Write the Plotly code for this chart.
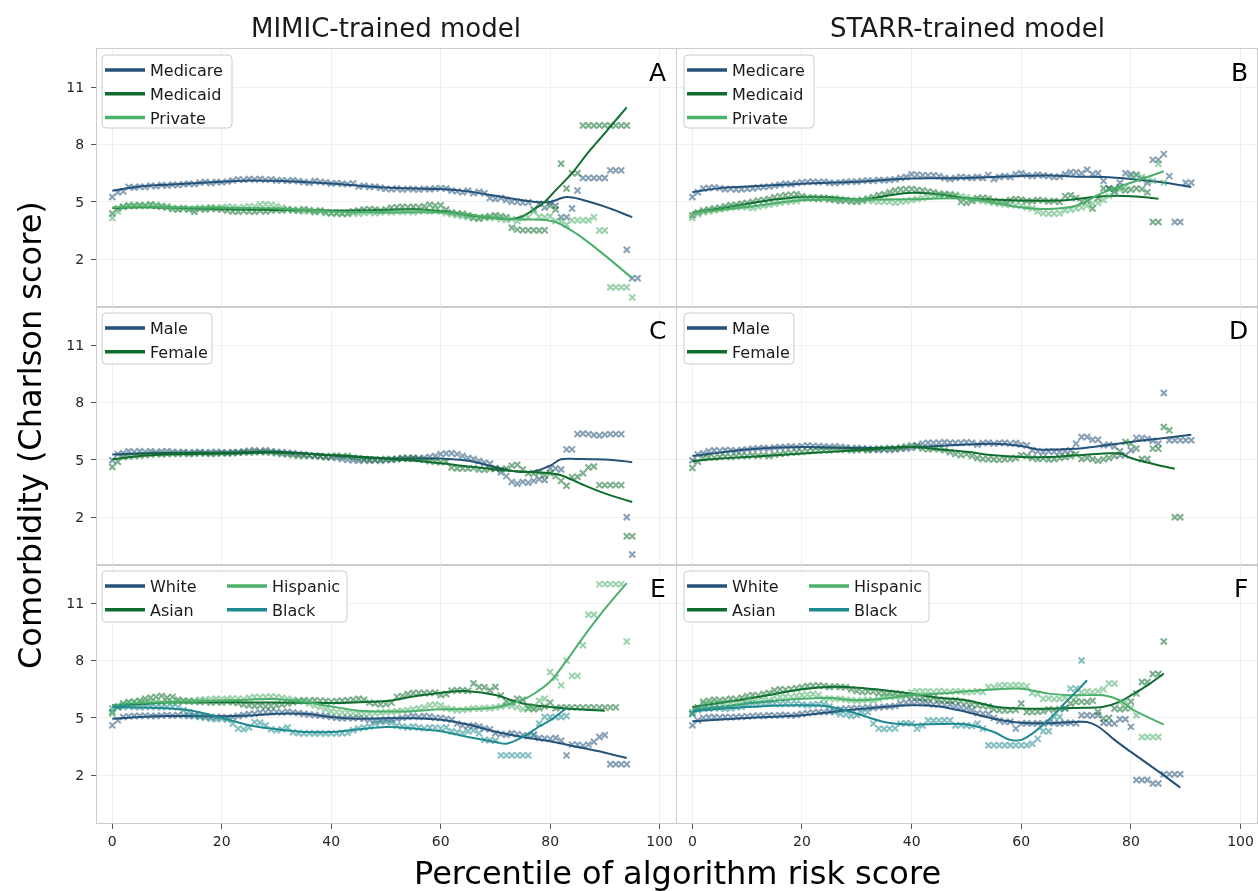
import plotly.graph_objects as go
from plotly.subplots import make_subplots

FONT = "DejaVu Sans"
BLUE = "#245279"
DKGREEN = "#0f6d2e"
LTGREEN = "#4cb06a"
TEAL = "#1f8a8f"

COL_TITLES = ["MIMIC-trained model", "STARR-trained model"]
PANEL_LETTERS = ["A", "B", "C", "D", "E", "F"]
X_TICKS = [0, 20, 40, 60, 80, 100]
Y_TICKS = [2, 5, 8, 11]

# ---------------- Panel A: MIMIC, insurance ----------------
A_MEDICARE = [5.26, 5.5, 5.55, 5.78, 5.75, 5.8, 5.78, 5.85, 5.82, 5.88, 5.85, 5.9, 5.88, 5.92, 5.95, 5.93,
              6.0, 6.04, 5.98, 6.04, 6.02, 6.06, 6.12, 6.18, 6.15, 6.2, 6.17, 6.2, 6.15, 6.18, 6.12, 6.14,
              6.1, 6.13, 6.08, 6.04, 6.0, 6.1, 6.04, 6.02, 5.96, 5.98, 5.95, 5.93, 5.97, 5.8, 5.85, 5.78,
              5.8, 5.74, 5.68, 5.66, 5.7, 5.64, 5.68, 5.66, 5.64, 5.68, 5.66, 5.7, 5.72, 5.7, 5.6, 5.55,
              5.5, 5.58, 5.45, 5.52, 5.45, 5.2, 5.15, 5.2, 5.1, 5.0, 5.0, 4.95, 4.98, 4.6, 4.9, 4.7,
              4.95, 4.8, 4.2, 4.2, 4.65, 5.6, 6.25, 6.25, 6.25, 6.25, 6.25, 6.65, 6.65, 6.65, 2.5, 1.0, 1.0]
A_MEDICAID = [4.39, 4.65, 4.75, 4.8, 4.78, 4.82, 4.8, 4.85, 4.78, 4.75, 4.7, 4.62, 4.6, 4.65, 4.6, 4.48,
              4.62, 4.6, 4.65, 4.62, 4.6, 4.55, 4.5, 4.48, 4.52, 4.5, 4.48, 4.55, 4.5, 4.55, 4.58, 4.55,
              4.6, 4.58, 4.55, 4.62, 4.56, 4.5, 4.55, 4.45, 4.4, 4.42, 4.38, 4.4, 4.5, 4.55, 4.6, 4.62,
              4.6, 4.55, 4.6, 4.7, 4.72, 4.75, 4.72, 4.75, 4.72, 4.78, 4.85, 4.8, 4.82, 4.6, 4.45, 4.4,
              4.38, 4.3, 4.15, 4.12, 4.2, 4.25, 4.3, 4.25, 4.2, 3.65, 3.55, 3.52, 3.52, 3.52, 3.5, 3.52,
              4.8, 4.6, 7.0, 5.7, 6.5, 6.5, 9.0, 9.0, 9.0, 9.0, 9.0, 9.0, 9.0, 9.0, 9.0]
A_PRIVATE = [4.16, 4.5, 4.75, 4.82, 4.85, 4.8, 4.82, 4.88, 4.85, 4.8, 4.78, 4.7, 4.65, 4.68, 4.62, 4.65,
             4.7, 4.68, 4.72, 4.7, 4.72, 4.75, 4.73, 4.7, 4.72, 4.78, 4.75, 4.86, 4.88, 4.85, 4.78, 4.7,
             4.62, 4.56, 4.55, 4.5, 4.52, 4.45, 4.5, 4.42, 4.4, 4.38, 4.4, 4.36, 4.4, 4.38, 4.42, 4.45,
             4.4, 4.45, 4.48, 4.45, 4.5, 4.47, 4.5, 4.45, 4.5, 4.55, 4.5, 4.55, 4.5, 4.4, 4.35, 4.3,
             4.25, 4.2, 4.22, 4.15, 4.2, 4.15, 4.18, 4.1, 4.05, 4.1, 4.0, 4.15, 4.2, 4.5, 4.22, 4.2,
             4.25, 4.0, 4.0, 3.8, 4.04, 4.04, 4.04, 4.04, 4.2, 3.5, 3.5, 0.53, 0.53, 0.53, 0.53, 0.0]
A_MEDICARE_FIT_X = [0, 5, 10, 15, 20, 25, 30, 35, 40, 45, 50, 55, 60, 65, 70, 75, 78, 80, 83, 86, 90, 95]
A_MEDICARE_FIT_Y = [5.58, 5.8, 5.9, 5.98, 6.05, 6.12, 6.1, 6.04, 5.96, 5.85, 5.75, 5.7, 5.67, 5.55, 5.32,
                    5.08, 4.98, 5.0, 5.25, 5.1, 4.75, 4.2]
A_MEDICAID_FIT_X = [0, 5, 10, 20, 30, 40, 50, 55, 60, 65, 70, 73, 75, 77, 79, 81, 84, 87, 90, 94]
A_MEDICAID_FIT_Y = [4.68, 4.72, 4.7, 4.62, 4.58, 4.55, 4.58, 4.62, 4.52, 4.32, 4.15, 4.1, 4.25, 4.6, 5.0,
                    5.6, 6.5, 7.6, 8.6, 9.95]
A_PRIVATE_FIT_X = [0, 5, 10, 20, 30, 40, 50, 60, 65, 70, 75, 79, 81, 85, 90, 95]
A_PRIVATE_FIT_Y = [4.7, 4.76, 4.72, 4.7, 4.65, 4.5, 4.45, 4.45, 4.35, 4.15, 4.08, 4.05, 3.95, 3.3, 2.2, 1.0]

# ---------------- Panel B: STARR, insurance ----------------
B_MEDICARE = [5.26, 5.5, 5.7, 5.73, 5.75, 5.72, 5.66, 5.68, 5.64, 5.66, 5.68, 5.7, 5.75, 5.78, 5.8, 5.85,
              5.9, 5.95, 5.92, 5.98, 6.02, 6.04, 6.05, 6.03, 6.06, 6.0, 5.98, 6.02, 6.04, 6.06, 6.05, 6.1,
              6.12, 6.1, 6.15, 6.13, 6.15, 6.18, 6.25, 6.3, 6.45, 6.42, 6.4, 6.38, 6.4, 6.35, 6.25, 6.2,
              6.25, 6.3, 6.28, 6.25, 6.3, 6.25, 6.4, 6.2, 6.3, 6.35, 6.3, 6.45, 6.5, 6.4, 6.35, 6.42,
              6.38, 6.35, 6.3, 6.32, 6.45, 6.55, 6.55, 6.5, 6.68, 6.45, 6.5, 6.1, 5.7, 5.55, 6.0, 6.5,
              6.45, 6.42, 6.2, 6.0, 7.2, 7.2, 7.5, 6.35, 3.95, 3.95, 6.0, 6.0]
B_MEDICAID = [4.3, 4.45, 4.55, 4.6, 4.65, 4.7, 4.78, 4.82, 4.85, 4.9, 4.95, 5.0, 5.08, 5.1, 5.15, 5.25,
              5.3, 5.35, 5.38, 5.4, 5.3, 5.2, 5.18, 5.15, 5.2, 5.12, 5.1, 5.05, 5.08, 5.02, 5.0, 5.1,
              5.18, 5.25, 5.35, 5.4, 5.5, 5.6, 5.65, 5.66, 5.68, 5.62, 5.6, 5.55, 5.5, 5.43, 5.4, 5.35,
              5.3, 5.0, 4.95, 5.05, 5.2, 5.22, 5.18, 5.05, 5.0, 5.02, 5.1, 5.15, 5.12, 5.05, 5.05, 5.1,
              5.08, 5.02, 5.05, 5.0, 5.3, 5.35, 5.2, 5.0, 5.05, 4.65, 5.2, 5.7, 5.7, 5.68, 5.75, 5.6,
              5.65, 5.7, 5.66, 5.5, 3.95, 3.95]
B_PRIVATE = [4.16, 4.35, 4.45, 4.5, 4.55, 4.6, 4.65, 4.7, 4.72, 4.75, 4.72, 4.68, 4.75, 4.8, 4.85, 4.9,
             4.95, 5.0, 5.02, 5.05, 5.15, 5.2, 5.25, 5.2, 5.22, 5.18, 5.2, 5.15, 5.1, 5.08, 5.1, 5.05,
             5.1, 5.05, 5.0, 5.02, 5.0, 4.95, 5.0, 5.05, 5.1, 5.15, 5.2, 5.25, 5.3, 5.35, 5.4, 5.42,
             5.38, 5.3, 5.25, 5.15, 5.1, 5.05, 5.0, 4.95, 4.9, 4.88, 4.85, 4.82, 4.8, 4.7, 4.65, 4.5,
             4.4, 4.38, 4.38, 4.4, 4.55, 4.6, 4.65, 4.7, 4.8, 4.9, 4.95, 5.1, 5.3, 5.5, 5.65, 5.8,
             6.35, 6.4, 6.3, 6.1, 6.1, 7.0, 6.0]
B_MEDICARE_FIT_X = [0, 5, 10, 20, 30, 40, 50, 60, 65, 70, 75, 80, 85, 91]
B_MEDICARE_FIT_Y = [5.5, 5.72, 5.8, 5.95, 6.05, 6.22, 6.25, 6.36, 6.38, 6.32, 6.3, 6.2, 6.05, 5.78]
B_MEDICAID_FIT_X = [0, 5, 10, 15, 20, 25, 31, 36, 40, 45, 50, 58, 64, 68, 72, 75, 80, 85]
B_MEDICAID_FIT_Y = [4.44, 4.65, 4.9, 5.12, 5.26, 5.25, 5.13, 5.35, 5.48, 5.4, 5.2, 5.08, 5.06, 5.08, 5.22,
                    5.3, 5.3, 5.17]
B_PRIVATE_FIT_X = [0, 5, 10, 20, 30, 40, 50, 57, 61, 65, 70, 75, 80, 86]
B_PRIVATE_FIT_Y = [4.45, 4.58, 4.73, 5.08, 5.12, 5.14, 5.17, 4.85, 4.68, 4.63, 4.8, 5.5, 6.0, 6.6]

# ---------------- Panel C: MIMIC, sex ----------------
C_MALE = [4.98, 5.3, 5.35, 5.45, 5.42, 5.45, 5.42, 5.45, 5.4, 5.44, 5.45, 5.42, 5.4, 5.42, 5.38, 5.4,
          5.42, 5.38, 5.4, 5.42, 5.4, 5.38, 5.42, 5.4, 5.44, 5.48, 5.5, 5.45, 5.5, 5.46, 5.42, 5.4,
          5.38, 5.35, 5.3, 5.28, 5.25, 5.22, 5.2, 5.15, 5.12, 5.1, 5.05, 5.0, 4.98, 4.95, 4.98, 4.95,
          4.98, 4.95, 4.98, 5.0, 5.05, 5.07, 5.05, 5.1, 5.08, 5.12, 5.15, 5.2, 5.3, 5.33, 5.35, 5.3,
          5.2, 5.1, 5.05, 4.95, 4.85, 4.8, 4.55, 4.35, 4.15, 3.85, 3.75, 3.85, 3.8, 3.9, 4.0, 3.95,
          4.55, 4.55, 4.5, 5.55, 5.55, 6.35, 6.38, 6.35, 6.3, 6.28, 6.32, 6.35, 6.35, 6.35, 2.0, 0.05]
C_FEMALE = [4.63, 4.9, 5.15, 5.18, 5.2, 5.22, 5.25, 5.28, 5.3, 5.28, 5.3, 5.32, 5.3, 5.33, 5.3, 5.32,
            5.35, 5.33, 5.3, 5.32, 5.35, 5.33, 5.35, 5.38, 5.4, 5.38, 5.4, 5.42, 5.4, 5.38, 5.35, 5.3,
            5.28, 5.25, 5.22, 5.2, 5.22, 5.2, 5.18, 5.15, 5.2, 5.22, 5.18, 5.2, 5.12, 5.08, 5.05, 5.02,
            5.0, 5.02, 5.05, 5.03, 5.05, 5.1, 5.12, 5.1, 5.05, 5.0, 4.93, 4.9, 4.88, 4.9, 4.6, 4.55,
            4.55, 4.55, 4.57, 4.5, 4.48, 4.52, 4.55, 4.5, 4.55, 4.7, 4.75, 4.5, 4.3, 4.28, 4.35, 4.2,
            4.3, 4.15, 3.9, 3.65, 4.1, 4.12, 4.3, 4.6, 4.65, 3.68, 3.68, 3.68, 3.68, 3.68, 1.0, 1.0]
C_MALE_FIT_X = [0, 5, 10, 20, 30, 40, 50, 60, 65, 70, 74, 77, 80, 82, 85, 90, 95]
C_MALE_FIT_Y = [5.28, 5.33, 5.36, 5.38, 5.42, 5.24, 5.07, 5.07, 4.95, 4.62, 4.38, 4.4, 4.7, 5.03, 5.05,
                5.02, 4.88]
C_FEMALE_FIT_X = [0, 5, 10, 20, 30, 40, 50, 60, 65, 70, 75, 80, 82, 86, 90, 95]
C_FEMALE_FIT_Y = [5.03, 5.2, 5.28, 5.33, 5.38, 5.25, 5.07, 4.82, 4.65, 4.5, 4.38, 4.3, 4.2, 3.7, 3.25, 2.8]

# ---------------- Panel D: STARR, sex ----------------
D_MALE = [4.98, 5.28, 5.35, 5.45, 5.5, 5.48, 5.52, 5.5, 5.48, 5.52, 5.55, 5.58, 5.6, 5.62, 5.6, 5.65,
          5.66, 5.68, 5.7, 5.68, 5.72, 5.75, 5.73, 5.72, 5.7, 5.68, 5.7, 5.68, 5.65, 5.6, 5.62, 5.6,
          5.58, 5.55, 5.52, 5.55, 5.52, 5.55, 5.58, 5.6, 5.62, 5.75, 5.85, 5.9, 5.88, 5.9, 5.92, 5.9,
          5.88, 5.9, 5.92, 5.9, 5.8, 5.88, 5.9, 5.85, 5.88, 5.9, 5.85, 5.88, 5.8, 5.75, 5.5, 5.45,
          5.4, 5.45, 5.42, 5.4, 5.45, 5.5, 5.85, 6.2, 6.2, 6.05, 6.05, 5.76, 5.8, 5.7, 5.24, 5.24,
          5.5, 6.15, 6.15, 6.1, 6.0, 5.85, 8.5, 6.03, 6.03, 6.03, 6.03, 6.03]
D_FEMALE = [4.58, 4.9, 5.1, 5.15, 5.12, 5.15, 5.18, 5.15, 5.2, 5.22, 5.2, 5.24, 5.22, 5.25, 5.2, 5.28,
            5.3, 5.35, 5.38, 5.4, 5.42, 5.45, 5.48, 5.5, 5.52, 5.5, 5.55, 5.52, 5.55, 5.5, 5.52, 5.55,
            5.5, 5.55, 5.6, 5.58, 5.62, 5.6, 5.65, 5.7, 5.76, 5.7, 5.6, 5.55, 5.58, 5.55, 5.5, 5.4,
            5.3, 5.25, 5.3, 5.2, 5.1, 5.05, 5.03, 5.02, 5.0, 5.03, 5.05, 5.1, 5.25, 5.2, 5.1, 5.05,
            5.08, 5.02, 5.05, 5.1, 5.15, 5.2, 5.3, 5.05, 5.1, 5.03, 4.95, 5.03, 5.1, 5.2, 5.45, 5.94,
            5.85, 5.6, 5.05, 5.05, 5.59, 5.59, 6.72, 6.55, 2.0, 2.0]
D_MALE_FIT_X = [0, 5, 10, 20, 30, 40, 50, 55, 60, 63, 67, 70, 75, 80, 85, 91]
D_MALE_FIT_Y = [5.2, 5.38, 5.55, 5.67, 5.62, 5.67, 5.8, 5.84, 5.73, 5.55, 5.55, 5.58, 5.75, 5.94, 6.11, 6.32]
D_FEMALE_FIT_X = [0, 5, 10, 20, 30, 40, 45, 50, 55, 60, 65, 70, 75, 78, 80, 85, 88]
D_FEMALE_FIT_Y = [4.93, 5.07, 5.15, 5.33, 5.5, 5.67, 5.55, 5.42, 5.24, 5.15, 5.15, 5.24, 5.33, 5.33, 5.1,
                  4.72, 4.54]

# ---------------- Panel E: MIMIC, race ----------------
E_WHITE = [4.61, 4.87, 5.05, 5.08, 5.1, 5.1, 5.12, 5.1, 5.1, 5.12, 5.14, 5.12, 5.14, 5.12, 5.1, 5.14,
           5.1, 5.08, 5.05, 5.05, 5.05, 5.0, 5.05, 5.1, 5.15, 5.2, 5.22, 5.28, 5.3, 5.32, 5.3, 5.28,
           5.32, 5.28, 5.25, 5.2, 5.18, 5.15, 5.12, 5.1, 5.05, 5.0, 4.98, 5.0, 4.98, 5.0, 4.95, 4.9,
           4.85, 4.88, 4.92, 4.9, 4.95, 5.0, 5.05, 5.1, 5.05, 5.1, 5.08, 5.0, 5.0, 4.95, 4.9, 4.7,
           4.6, 4.58, 4.6, 4.55, 4.45, 4.4, 4.2, 4.15, 4.12, 4.2, 4.15, 4.1, 4.05, 4.12, 3.95, 3.92,
           3.9, 3.95, 3.8, 3.04, 3.6, 3.6, 3.55, 3.6, 3.75, 4.0, 4.1, 2.57, 2.57, 2.57, 2.57]
E_ASIAN = [5.31, 5.6, 5.75, 5.83, 5.85, 5.9, 6.0, 6.05, 6.1, 6.15, 6.05, 6.1, 5.95, 5.9, 5.88, 5.85,
           5.83, 5.85, 5.8, 5.83, 5.8, 5.85, 5.82, 5.78, 5.7, 5.66, 5.62, 5.65, 5.6, 5.62, 5.66, 5.7,
           5.75, 5.82, 5.88, 5.92, 5.9, 5.92, 5.9, 5.88, 5.85, 5.88, 5.9, 5.92, 5.95, 6.0, 5.95, 5.8,
           5.75, 5.7, 5.72, 5.8, 6.1, 6.15, 6.25, 6.3, 6.3, 6.3, 6.3, 6.32, 6.2, 6.25, 6.42, 6.45,
           6.45, 6.42, 6.8, 6.62, 6.6, 6.45, 6.62, 6.18, 5.85, 5.8, 6.0, 5.95, 5.5, 5.45, 5.5, 5.6,
           5.8, 5.5, 5.55, 5.55, 5.55, 5.55, 5.55, 5.55, 5.55, 5.55, 5.55, 5.55, 5.55]
E_HISPANIC = [5.22, 5.55, 5.7, 5.8, 5.83, 5.85, 5.82, 5.85, 5.83, 5.8, 5.85, 5.83, 5.85, 5.88, 5.85, 5.9,
              5.95, 5.97, 5.98, 6.0, 5.98, 6.0, 6.02, 6.0, 5.98, 6.05, 6.1, 6.08, 6.1, 6.12, 6.1, 6.05,
              6.0, 5.95, 5.9, 5.85, 5.75, 5.65, 5.55, 5.45, 5.35, 5.3, 5.28, 5.3, 5.25, 5.22, 5.2, 5.22,
              5.25, 5.28, 5.3, 5.32, 5.35, 5.38, 5.4, 5.45, 5.5, 5.55, 5.66, 5.7, 5.65, 5.5, 5.45, 5.4,
              5.42, 5.45, 5.5, 5.48, 5.52, 5.5, 5.55, 5.6, 5.66, 5.62, 5.55, 5.45, 5.5, 5.6, 5.9, 6.0,
              7.4, 7.1, 6.7, 8.0, 7.2, 7.2, 8.8, 10.4, 10.4, 12.0, 12.0, 12.0, 12.0, 12.0, 9.0]
E_BLACK = [5.49, 5.55, 5.57, 5.6, 5.57, 5.55, 5.57, 5.6, 5.57, 5.55, 5.57, 5.6, 5.55, 5.4, 5.3, 5.1,
           5.05, 5.0, 4.95, 4.93, 4.95, 4.9, 4.7, 4.44, 4.4, 4.5, 4.78, 4.75, 4.6, 4.4, 4.35, 4.4,
           4.5, 4.25, 4.2, 4.18, 4.2, 4.18, 4.2, 4.18, 4.2, 4.18, 4.2, 4.22, 4.35, 4.45, 4.5, 4.55,
           4.7, 4.78, 4.8, 4.75, 4.6, 4.55, 4.5, 4.55, 4.5, 4.45, 4.5, 4.48, 4.45, 4.5, 4.3, 4.25,
           4.2, 4.3, 4.35, 4.2, 3.85, 3.83, 3.8, 3.04, 3.04, 3.04, 3.04, 3.04, 3.04, 4.1, 4.7, 5.05,
           5.05, 5.05, 5.05, 5.1]
E_WHITE_FIT_X = [0, 5, 10, 15, 20, 25, 30, 35, 40, 45, 50, 55, 60, 65, 70, 75, 80, 85, 90, 94]
E_WHITE_FIT_Y = [4.96, 5.05, 5.1, 5.1, 5.08, 5.12, 5.22, 5.22, 5.05, 4.96, 4.98, 4.98, 4.9, 4.65, 4.28,
                 4.0, 3.78, 3.48, 3.18, 2.9]
E_ASIAN_FIT_X = [0, 5, 10, 20, 30, 40, 45, 50, 55, 60, 65, 70, 73, 75, 80, 85, 90]
E_ASIAN_FIT_Y = [5.68, 5.72, 5.8, 5.82, 5.8, 5.78, 5.82, 5.88, 6.12, 6.32, 6.4, 6.2, 5.92, 5.75, 5.57,
                 5.45, 5.38]
E_HISPANIC_FIT_X = [0, 5, 10, 20, 30, 35, 40, 45, 50, 55, 60, 65, 70, 73, 75, 77, 80, 83, 86, 90, 94]
E_HISPANIC_FIT_Y = [5.66, 5.78, 5.83, 5.9, 5.98, 5.85, 5.6, 5.38, 5.33, 5.35, 5.45, 5.45, 5.55, 5.75,
                    5.95, 6.25, 6.9, 8.0, 9.2, 10.7, 12.05]
E_BLACK_FIT_X = [0, 5, 10, 15, 20, 25, 30, 35, 40, 45, 50, 55, 60, 65, 70, 72, 75, 78, 80, 83]
E_BLACK_FIT_Y = [5.57, 5.55, 5.5, 5.35, 5.0, 4.62, 4.4, 4.26, 4.26, 4.4, 4.52, 4.45, 4.3, 4.0, 3.74,
                 3.65, 4.0, 4.55, 4.87, 5.52]

# ---------------- Panel F: STARR, race ----------------
F_WHITE = [4.61, 4.87, 5.0, 5.03, 5.05, 5.02, 5.05, 5.03, 5.05, 5.06, 5.08, 5.1, 5.12, 5.1, 5.14, 5.12,
           5.14, 5.15, 5.12, 5.15, 5.2, 5.25, 5.28, 5.3, 5.3, 5.32, 5.38, 5.45, 5.48, 5.5, 5.5, 5.52,
           5.55, 5.52, 5.55, 5.58, 5.6, 5.62, 5.75, 5.8, 5.83, 5.85, 5.83, 5.75, 5.7, 5.72, 5.68, 5.7,
           5.62, 5.55, 5.5, 5.4, 5.25, 5.22, 5.2, 5.0, 4.85, 4.79, 4.8, 4.44, 4.7, 4.72, 4.7, 4.72,
           4.7, 4.75, 4.72, 4.7, 4.73, 4.75, 4.72, 5.14, 5.14, 5.12, 5.14, 4.75, 4.72, 4.7, 4.93, 4.93,
           4.53, 1.75, 1.75, 1.75, 1.57, 1.57, 2.05, 2.05, 2.05, 2.05]
F_ASIAN = [5.22, 5.55, 5.85, 5.9, 5.95, 5.92, 5.95, 6.0, 5.98, 6.05, 6.15, 6.2, 6.18, 6.25, 6.3, 6.45,
           6.5, 6.48, 6.52, 6.55, 6.6, 6.67, 6.68, 6.7, 6.67, 6.62, 6.65, 6.62, 6.6, 6.5, 6.4, 6.35,
           6.38, 6.36, 6.3, 6.28, 6.3, 6.27, 6.25, 6.2, 6.1, 6.05, 6.04, 6.0, 6.05, 5.95, 5.92, 5.9,
           5.92, 5.85, 5.8, 5.7, 5.66, 5.62, 5.6, 5.45, 5.4, 5.38, 5.4, 5.42, 5.75, 5.31, 5.3, 5.32,
           5.35, 5.45, 5.42, 5.45, 5.5, 5.75, 5.83, 5.85, 5.83, 5.9, 5.31, 4.96, 5.0, 5.49, 5.45, 5.5,
           5.85, 6.27, 6.88, 6.88, 7.3, 7.3, 9.0]
F_HISPANIC = [5.31, 5.5, 5.75, 5.73, 5.75, 5.78, 5.75, 5.78, 5.8, 5.78, 5.9, 5.92, 5.9, 5.95, 5.92, 6.1,
              6.08, 6.12, 6.1, 6.15, 6.2, 6.22, 6.25, 6.2, 6.0, 6.02, 5.98, 6.0, 5.95, 5.92, 5.9, 5.92,
              5.95, 5.9, 5.98, 6.1, 6.12, 6.1, 6.08, 6.15, 6.35, 6.4, 6.38, 6.4, 6.36, 6.4, 6.38, 6.36,
              6.4, 6.38, 6.35, 6.36, 6.4, 6.35, 6.62, 6.6, 6.7, 6.72, 6.7, 6.72, 6.7, 6.65, 6.3, 6.25,
              6.0, 6.02, 5.98, 6.0, 6.05, 6.08, 6.1, 6.35, 6.38, 6.35, 6.4, 6.5, 6.8, 6.8, 5.83, 5.85,
              5.5, 5.14, 4.0, 4.0, 4.0, 4.0]
F_BLACK = [5.22, 5.4, 5.5, 5.48, 5.52, 5.5, 5.48, 5.5, 5.55, 5.58, 5.7, 5.75, 5.72, 5.75, 5.78, 5.75,
           5.72, 5.75, 5.72, 5.75, 5.7, 5.66, 5.7, 5.72, 5.7, 5.6, 5.3, 5.2, 5.18, 5.1, 5.15, 5.3,
           5.31, 4.7, 4.44, 4.42, 4.44, 4.45, 4.7, 4.72, 4.7, 4.44, 4.6, 4.87, 4.85, 4.87, 4.88, 4.87,
           4.6, 4.62, 4.6, 4.58, 4.7, 4.44, 3.57, 3.57, 3.57, 3.57, 3.57, 3.57, 3.57, 3.57, 3.65, 3.9,
           4.3, 4.3, 5.05, 5.05, 5.5, 6.53, 6.53, 8.0]
F_WHITE_FIT_X = [0, 10, 20, 30, 40, 45, 50, 55, 60, 65, 70, 72, 74, 77, 80, 85, 89]
F_WHITE_FIT_Y = [4.82, 5.0, 5.14, 5.45, 5.66, 5.6, 5.31, 4.96, 4.75, 4.72, 4.79, 4.78, 4.55, 3.85, 3.22,
                 2.2, 1.35]
F_ASIAN_FIT_X = [0, 5, 10, 15, 20, 25, 30, 35, 40, 45, 50, 55, 60, 65, 70, 75, 78, 80, 83, 86]
F_ASIAN_FIT_Y = [5.57, 5.78, 6.0, 6.25, 6.5, 6.62, 6.58, 6.45, 6.27, 6.05, 5.92, 5.6, 5.49, 5.48, 5.52,
                 5.58, 5.85, 6.18, 6.7, 7.32]
F_HISPANIC_FIT_X = [0, 5, 10, 20, 25, 30, 35, 40, 45, 50, 55, 60, 65, 70, 75, 78, 80, 83, 86]
F_HISPANIC_FIT_Y = [5.45, 5.57, 5.75, 6.0, 6.04, 5.92, 6.01, 6.18, 6.27, 6.39, 6.49, 6.53, 6.27, 6.18,
                    6.18, 5.92, 5.49, 5.05, 4.65]
F_BLACK_FIT_X = [0, 10, 20, 25, 30, 35, 40, 45, 50, 55, 58, 60, 62, 65, 68, 70, 72]
F_BLACK_FIT_Y = [5.35, 5.57, 5.66, 5.6, 5.22, 4.79, 4.65, 4.68, 4.65, 4.26, 3.85, 3.85, 4.18, 4.9, 5.8,
                 6.36, 6.97]

# ---------------- assemble ----------------
PANELS = [
    (1, 1, [("Medicare", BLUE, A_MEDICARE, A_MEDICARE_FIT_X, A_MEDICARE_FIT_Y),
            ("Medicaid", DKGREEN, A_MEDICAID, A_MEDICAID_FIT_X, A_MEDICAID_FIT_Y),
            ("Private", LTGREEN, A_PRIVATE, A_PRIVATE_FIT_X, A_PRIVATE_FIT_Y)]),
    (1, 2, [("Medicare", BLUE, B_MEDICARE, B_MEDICARE_FIT_X, B_MEDICARE_FIT_Y),
            ("Medicaid", DKGREEN, B_MEDICAID, B_MEDICAID_FIT_X, B_MEDICAID_FIT_Y),
            ("Private", LTGREEN, B_PRIVATE, B_PRIVATE_FIT_X, B_PRIVATE_FIT_Y)]),
    (2, 1, [("Male", BLUE, C_MALE, C_MALE_FIT_X, C_MALE_FIT_Y),
            ("Female", DKGREEN, C_FEMALE, C_FEMALE_FIT_X, C_FEMALE_FIT_Y)]),
    (2, 2, [("Male", BLUE, D_MALE, D_MALE_FIT_X, D_MALE_FIT_Y),
            ("Female", DKGREEN, D_FEMALE, D_FEMALE_FIT_X, D_FEMALE_FIT_Y)]),
    (3, 1, [("White", BLUE, E_WHITE, E_WHITE_FIT_X, E_WHITE_FIT_Y),
            ("Asian", DKGREEN, E_ASIAN, E_ASIAN_FIT_X, E_ASIAN_FIT_Y),
            ("Hispanic", LTGREEN, E_HISPANIC, E_HISPANIC_FIT_X, E_HISPANIC_FIT_Y),
            ("Black", TEAL, E_BLACK, E_BLACK_FIT_X, E_BLACK_FIT_Y)]),
    (3, 2, [("White", BLUE, F_WHITE, F_WHITE_FIT_X, F_WHITE_FIT_Y),
            ("Asian", DKGREEN, F_ASIAN, F_ASIAN_FIT_X, F_ASIAN_FIT_Y),
            ("Hispanic", LTGREEN, F_HISPANIC, F_HISPANIC_FIT_X, F_HISPANIC_FIT_Y),
            ("Black", TEAL, F_BLACK, F_BLACK_FIT_X, F_BLACK_FIT_Y)]),
]

W, H = 1258, 891
L, R, T, B = 97, 1, 49, 68
PW, PH = W - L - R, H - T - B


def px(x):
    return (x - L) / PW


def py(y):
    return 1 - (y - T) / PH


fig = make_subplots(rows=3, cols=2, horizontal_spacing=0.0, vertical_spacing=0.0)

legend_layouts = {}
shapes = []
leg_count = 0
for idx, (r, c, series) in enumerate(PANELS):
    x0 = 102 if c == 1 else 684
    ytop = {1: 55, 2: 313, 3: 571}[r]
    groups = [series] if len(series) < 4 else [series[:2], series[2:]]
    box_w = {3: 130, 2: 110, 4: 245}[len(series)]
    box_h = {3: 73, 2: 51, 4: 51}[len(series)]
    bx0, bx1, by0, by1 = x0, x0 + box_w, ytop, ytop + box_h
    rad = 4
    rx, ry = rad / PW, rad / PH
    X0, X1, Y0, Y1 = px(bx0), px(bx1), py(by1), py(by0)
    path = (f"M{X0 + rx},{Y0} L{X1 - rx},{Y0} Q{X1},{Y0} {X1},{Y0 + ry} L{X1},{Y1 - ry} "
            f"Q{X1},{Y1} {X1 - rx},{Y1} L{X0 + rx},{Y1} Q{X0},{Y1} {X0},{Y1 - ry} "
            f"L{X0},{Y0 + ry} Q{X0},{Y0} {X0 + rx},{Y0} Z")
    shapes.append(dict(type="path", path=path, xref="paper", yref="paper",
                       line=dict(color="#cccccc", width=1), fillcolor="rgba(255,255,255,0.85)",
                       layer="above"))
    for gi, grp in enumerate(groups):
        leg_count += 1
        lname = "legend" if leg_count == 1 else f"legend{leg_count}"
        lx = x0 - 2 + gi * 122
        legend_layouts[lname] = dict(
            x=px(lx), y=py(ytop - 2), xanchor="left", yanchor="top",
            bgcolor="rgba(0,0,0,0)", borderwidth=0,
            font=dict(family=FONT, size=16, color="#1a1a1a"),
            itemwidth=40, tracegroupgap=0, traceorder="normal")
        for name, color, vals, fx, fy in grp:
            fig.add_trace(go.Scatter(x=[None], y=[None], mode="lines", name=name,
                                     line=dict(color=color, width=3.5),
                                     legend=lname, showlegend=True, hoverinfo="skip"),
                          row=r, col=c)
    for name, color, vals, fx, fy in series:
        fig.add_trace(go.Scatter(x=list(range(len(vals))), y=vals, mode="markers",
                                 marker=dict(symbol="x-thin", size=6, color=color,
                                             line=dict(color=color, width=2)),
                                 opacity=0.55, showlegend=False, name=name),
                      row=r, col=c)
        fig.add_trace(go.Scatter(x=fx, y=fy, mode="lines", line=dict(color=color, width=2,
                                                                     shape="spline", smoothing=1.0),
                                 showlegend=False, name=name),
                      row=r, col=c)

annotations = []
for idx, (r, c, series) in enumerate(PANELS):
    xr = 668 if c == 1 else 1250
    yt = {1: 56, 2: 314, 3: 572}[r]
    annotations.append(dict(text=PANEL_LETTERS[idx], x=px(xr), y=py(yt), xref="paper", yref="paper",
                            xanchor="right", yanchor="top", showarrow=False,
                            font=dict(family=FONT, size=25, color="#000000")))
for ci, t in enumerate(COL_TITLES):
    cx = 386 if ci == 0 else 967
    annotations.append(dict(text=t, x=px(cx), y=py(28), xref="paper", yref="paper",
                            xanchor="center", yanchor="middle", showarrow=False,
                            font=dict(family=FONT, size=26, color="#1a1a1a")))
annotations.append(dict(text="Percentile of algorithm risk score", x=px(677), y=py(873), xref="paper",
                        yref="paper", xanchor="center", yanchor="middle", showarrow=False,
                        font=dict(family=FONT, size=32, color="#000000")))
annotations.append(dict(text="Comorbidity (Charlson score)", x=px(30), y=py(435), xref="paper",
                        yref="paper", xanchor="center", yanchor="middle", showarrow=False,
                        textangle=-90, font=dict(family=FONT, size=32, color="#000000")))

for r in range(1, 4):
    for c in range(1, 3):
        fig.update_xaxes(row=r, col=c, range=[-2.8, 103], tickvals=X_TICKS,
                         showticklabels=(r == 3), ticks="outside" if r == 3 else "",
                         ticklen=5, tickcolor="#555555",
                         tickfont=dict(family=FONT, size=14, color="#262626"),
                         showgrid=True, gridcolor="#f0f0f0", gridwidth=1, zeroline=False,
                         showline=True, mirror=True, linecolor="#cccccc", linewidth=1)
        fig.update_yaxes(row=r, col=c, range=[-0.5, 13.0], tickvals=Y_TICKS,
                         showticklabels=(c == 1), ticks="outside" if c == 1 else "",
                         ticklen=5, tickcolor="#555555", ticklabelstandoff=4,
                         tickfont=dict(family=FONT, size=14, color="#262626"),
                         showgrid=True, gridcolor="#f0f0f0", gridwidth=1, zeroline=False,
                         showline=True, mirror=True, linecolor="#cccccc", linewidth=1)

xl = (676 - L) / PW
fig.update_layout(
    xaxis=dict(domain=[0, xl]), xaxis3=dict(domain=[0, xl]), xaxis5=dict(domain=[0, xl]),
    xaxis2=dict(domain=[xl + 1 / PW, 1]), xaxis4=dict(domain=[xl + 1 / PW, 1]),
    xaxis6=dict(domain=[xl + 1 / PW, 1]),
    yaxis=dict(domain=[2 / 3, 1]), yaxis2=dict(domain=[2 / 3, 1]),
    yaxis3=dict(domain=[1 / 3, 2 / 3]), yaxis4=dict(domain=[1 / 3, 2 / 3]),
    yaxis5=dict(domain=[0, 1 / 3]), yaxis6=dict(domain=[0, 1 / 3]),
)

fig.update_layout(width=W, height=H, margin=dict(l=L, r=R, t=T, b=B, autoexpand=False),
                  paper_bgcolor="white", plot_bgcolor="white",
                  font=dict(family=FONT, color="#1a1a1a"),
                  annotations=annotations, shapes=shapes, **legend_layouts)

fig.write_html("out.html")
